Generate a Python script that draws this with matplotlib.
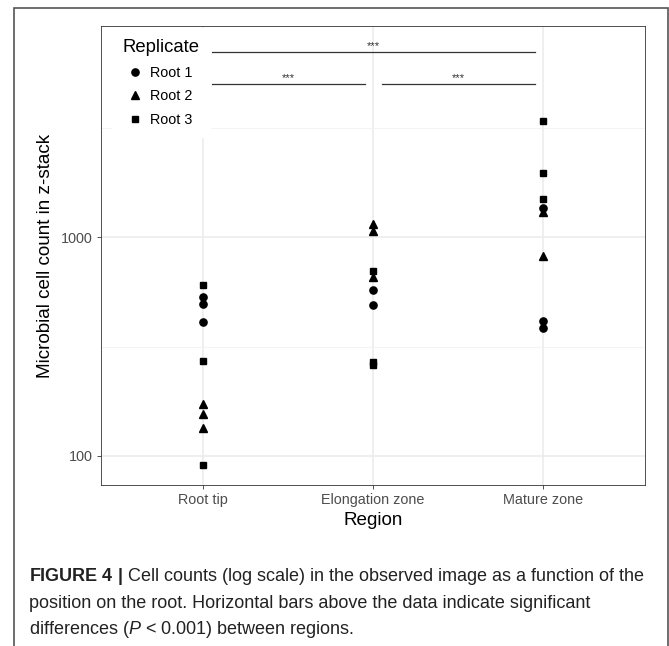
import matplotlib
matplotlib.use("Agg")
import matplotlib.pyplot as plt
from matplotlib import font_manager
from matplotlib.lines import Line2D
from matplotlib.patches import Rectangle
from matplotlib.ticker import FixedLocator, NullFormatter

plt.rcParams['font.family'] = ['Liberation Sans', 'DejaVu Sans']
plt.rcParams['mathtext.fontset'] = 'custom'

regions = ["Root tip", "Elongation zone", "Mature zone"]
replicates = ["Root 1", "Root 2", "Root 3"]
markers = ["o", "^", "s"]
marker_sizes = [5.2, 6.0, 5.0]

# cell counts, per replicate, one list per region
root1_counts = [[531, 497, 410], [572, 489], [1353, 416, 383]]
root2_counts = [[172, 155, 134], [1147, 1069, 658], [1301, 819]]
root3_counts = [[607, 272, 91], [699, 269, 260], [3392, 1970, 1488]]
counts = [root1_counts, root2_counts, root3_counts]

# significance bars: (from region, to region), bar height, label
sig_pairs = [(0, 2), (0, 1), (1, 2)]
sig_heights = [7000, 5000, 5000]
sig_labels = ["***", "***", "***"]

caption_lines = [
    r"$\mathbf{FIGURE\ 4\ |}$ Cell counts (log scale) in the observed image as a function of the",
    "position on the root. Horizontal bars above the data indicate significant",
    r"differences ($\mathit{P}$ < 0.001) between regions.",
]

W, H = 669, 646
def fx(px):
    return px / W
def fy(py):
    return 1 - py / H

fig = plt.figure(figsize=(W / 100, H / 100), dpi=100)
ax = fig.add_axes([fx(101), fy(485), fx(645) - fx(101), fy(26) - fy(485)])
ax.set_yscale('log')
ax.set_xlim(-0.6, 2.6)
ax.set_ylim(73.6, 9242)

ax.set_xticks(range(len(regions)))
ax.set_xticklabels(regions)
ax.yaxis.set_major_locator(FixedLocator([100, 1000]))
ax.set_yticklabels(["100", "1000"])
ax.yaxis.set_minor_locator(FixedLocator([10 ** 2.5, 10 ** 3.5]))
ax.yaxis.set_minor_formatter(NullFormatter())

ax.set_axisbelow(True)
ax.grid(which='major', color='#EBEBEB', lw=1.1)
ax.grid(which='minor', axis='y', color='#F2F2F2', lw=0.6)
for sp in ax.spines.values():
    sp.set_color('#333333')
    sp.set_linewidth(0.6)
ax.tick_params(which='major', length=2.7, width=0.6, color='#333333',
               labelcolor='#4D4D4D', labelsize=10.4, pad=3)
ax.tick_params(which='minor', length=0)

for rep, mk, ms, rep_counts in zip(replicates, markers, marker_sizes, counts):
    for i, vals in enumerate(rep_counts):
        ax.plot([i] * len(vals), vals, ls='none', marker=mk, ms=ms,
                color='black', mec='black', zorder=3)

ax.set_xlabel("Region", fontsize=13.6, labelpad=4)
ax.set_ylabel("Microbial cell count in z-stack", fontsize=13.6)
ax.yaxis.set_label_coords(-0.086, 0.5)

for (a, b), h, lab in zip(sig_pairs, sig_heights, sig_labels):
    ax.plot([a + 0.05, b - 0.05], [h, h], color='#333333', lw=0.9, zorder=5)
    ax.text((a + b) / 2, h * 1.04, lab, ha='center', va='baseline',
            fontsize=8, color='#333333', zorder=5)

handles = [Line2D([], [], ls='none', marker=mk, ms=ms, color='black')
           for mk, ms in zip(markers, marker_sizes)]
leg = ax.legend(handles, replicates, title="Replicate", loc='upper left',
                bbox_to_anchor=(fx(112), fy(28)), bbox_transform=fig.transFigure,
                frameon=True, fancybox=False, edgecolor='none', facecolor='white',
                framealpha=1, fontsize=10.4, title_fontsize=13.3, alignment='left',
                handlelength=1.7, handletextpad=0.2, labelspacing=0.68,
                borderpad=0.75, borderaxespad=0)
leg.set_zorder(4)

# outer figure frame (bottom runs off the image)
fig.add_artist(Rectangle((fx(14), -0.1), fx(668) - fx(14), fy(8) + 0.1,
                         transform=fig.transFigure, fill=False,
                         ec='#555555', lw=1.2, clip_on=False))

# caption, sized so the second line spans the same width as in the figure
names = {f.name for f in font_manager.fontManager.ttflist}
cap_font = 'Liberation Sans Narrow' if 'Liberation Sans Narrow' in names else 'Liberation Sans'
plt.rcParams['mathtext.rm'] = cap_font
plt.rcParams['mathtext.it'] = cap_font + ':italic'
plt.rcParams['mathtext.bf'] = cap_font + ':bold'
renderer = fig.canvas.get_renderer()
probe = fig.text(0, 0, caption_lines[1], fontsize=12, family=cap_font)
width = probe.get_window_extent(renderer).width
probe.remove()
cap_size = 12 * 562 / width
for line, base in zip(caption_lines, [581, 608, 634]):
    fig.text(fx(29), fy(base), line, fontsize=cap_size, family=cap_font,
             color='#222222', ha='left', va='baseline')

fig.savefig("out.png", dpi=100)
